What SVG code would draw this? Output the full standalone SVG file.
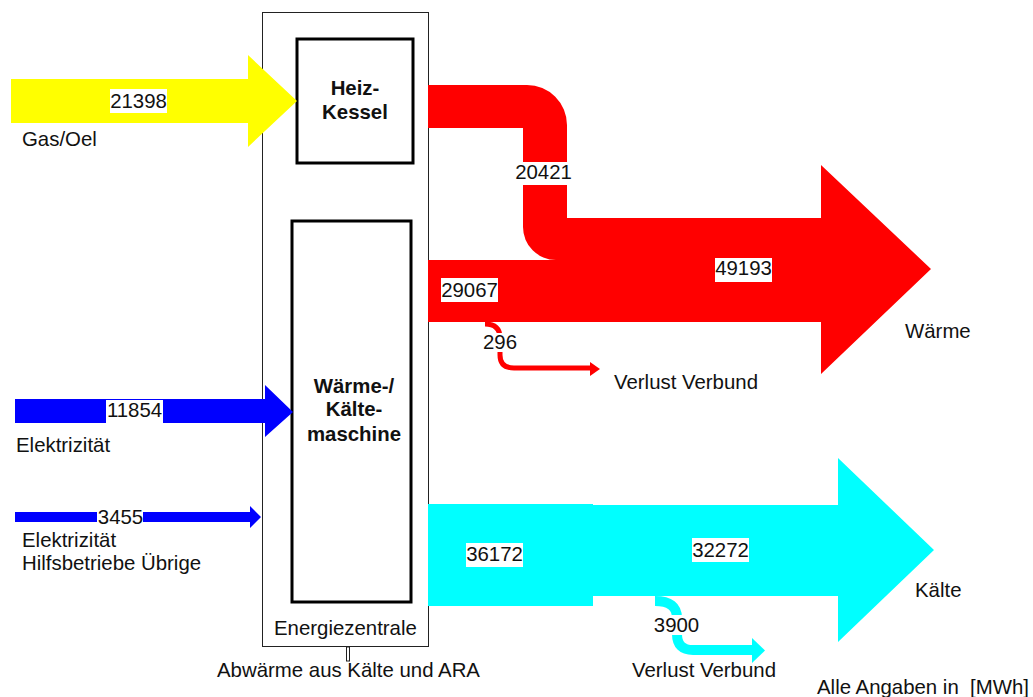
<svg xmlns="http://www.w3.org/2000/svg" width="1033" height="697" viewBox="0 0 1033 697">
<style>
text{font-family:"Liberation Sans",Arial,sans-serif;font-size:20.4px;fill:#111}
.b{font-weight:bold;text-anchor:middle}
.c{text-anchor:middle}
.lb{fill:#fff}
.box{fill:#fff;stroke:#000;stroke-width:3}
</style>
<rect width="1033" height="697" fill="#fff"/>
<g id="energiezentrale">
<rect x="262.5" y="12.5" width="166" height="634" fill="#fff" stroke="#222" stroke-width="1"/>
<text x="274" y="635">Energiezentrale</text>
<rect x="346.5" y="647" width="3" height="14" fill="none" stroke="#222" stroke-width="1"/>
<text x="217" y="677">Abwärme aus Kälte und ARA</text>
</g>
<g id="heizkessel">
<rect class="box" x="297" y="39" width="116" height="124"/>
<text class="b" x="355" y="95">Heiz-</text>
<text class="b" x="355" y="119">Kessel</text>
</g>
<g id="maschine">
<rect class="box" x="292" y="221" width="119" height="381"/>
<text class="b" x="354" y="393">Wärme-/</text>
<text class="b" x="354" y="416">Kälte-</text>
<text class="b" x="354" y="441">maschine</text>
</g>
<g id="connectors">
<polygon points="11,79 248,79 248,55 297,101 248,147 248,123 11,123" fill="#ffff00"/>
<polygon points="15,399 265,399 265,385 293,412 265,437 265,423 15,423" fill="#0000ff"/>
<polygon points="15,512 250,512 250,506 261,517 250,528 250,522 15,522" fill="#0000ff"/>
<path d="M428,85 H527 A40,40 0 0 1 567,125 V218 H821 V165 L931,269 L821,374 V322 H428 V260 H556 A33,33 0 0 1 523,227 V128 H428 Z" fill="#ff0000"/>
<path d="M485,324 Q500,324 500,338 V355 Q500,368 514,368 H591" fill="none" stroke="#ff0000" stroke-width="5"/>
<polygon points="590,362 600,369 590,376" fill="#ff0000"/>
<path d="M428,504 H593 V505 H838 V458 L934,550 L838,642 V596 H593 V606 H428 Z" fill="#00ffff"/>
<path d="M655,601 Q677,601 677,618 V634 Q677,650 693,650 H753" fill="none" stroke="#00ffff" stroke-width="10"/>
<polygon points="752,638 765,650.5 752,663" fill="#00ffff"/>
</g>
<g id="labels">
<rect class="lb" x="110" y="89" width="57" height="24"/>
<text class="c" x="138.5" y="108">21398</text>
<text x="22" y="146">Gas/Oel</text>
<rect class="lb" x="515" y="162" width="57" height="23"/>
<text class="c" x="543.5" y="179">20421</text>
<rect class="lb" x="441" y="278" width="57" height="24"/>
<text class="c" x="469.5" y="297">29067</text>
<rect class="lb" x="715" y="258" width="57" height="24"/>
<text class="c" x="743.5" y="275">49193</text>
<rect class="lb" x="483" y="333" width="34" height="19"/>
<text class="c" x="500" y="349">296</text>
<text x="614" y="389">Verlust Verbund</text>
<text x="905" y="338">Wärme</text>
<rect class="lb" x="106" y="400" width="57" height="23"/>
<text class="c" x="134.5" y="417">11854</text>
<text x="16" y="452">Elektrizität</text>
<rect class="lb" x="97" y="512" width="46" height="10"/>
<text class="c" x="120.5" y="524">3455</text>
<text x="22" y="547">Elektrizität</text>
<text x="22" y="570">Hilfsbetriebe Übrige</text>
<rect class="lb" x="466" y="543" width="57" height="24"/>
<text class="c" x="494.5" y="561">36172</text>
<rect class="lb" x="692" y="538" width="57" height="24"/>
<text class="c" x="720.5" y="557">32272</text>
<rect class="lb" x="653" y="615" width="47" height="20"/>
<text class="c" x="676.5" y="632">3900</text>
<text x="632" y="677">Verlust Verbund</text>
<text x="915" y="597">Kälte</text>
<text x="817" y="694" xml:space="preserve">Alle Angaben in  [MWh]</text>
</g>
</svg>
